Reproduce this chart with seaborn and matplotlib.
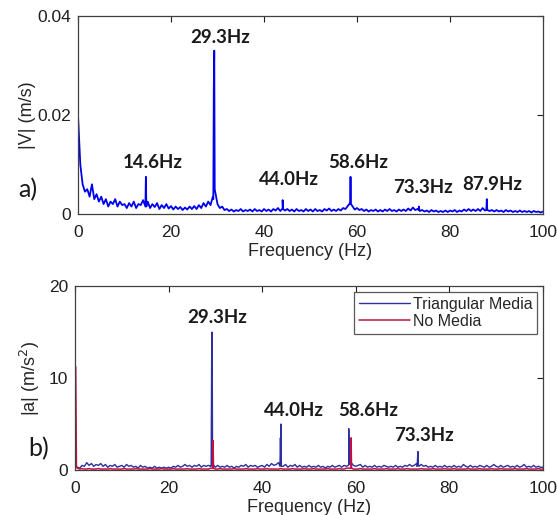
import numpy as np
import pandas as pd
import matplotlib
matplotlib.use("Agg")
import matplotlib.pyplot as plt
import seaborn as sns

sns.set_style("white")
plt.rcParams['font.family'] = ['Liberation Sans', 'DejaVu Sans']

# frequency grid of the noise floor (Hz), 0.5 Hz bins
freq_grid = np.arange(0, 100.5, 0.5)

# a) velocity spectrum noise floor, x1e-3 m/s
vel_floor = [
    20, 10, 6, 4.5, 5, 3.5, 6, 3, 4, 2.5, 3.5, 2, 3, 1.5, 2.5, 2, 3, 1.5, 2.5, 1.8,
    2, 1.2, 2.2, 1.5, 2.5, 1.2, 2, 1.8, 2.8, 1.5, 2.5, 1.2, 2, 1.4, 2.2, 1, 1.8, 1.2, 2, 1.1,
    1.6, 0.9, 1.5, 1, 1.4, 0.8, 1.3, 0.9, 1.5, 1, 1.6, 1, 1.8, 1.2, 2.2, 1.5, 2.5, 1.8, 3.5, 4.5,
    2, 1.2, 1.5, 0.8, 1, 0.6, 0.9, 0.5, 0.8, 0.6, 1, 0.5, 0.8, 0.6, 0.9, 0.5, 1, 0.6, 0.8, 0.5,
    1, 0.6, 0.9, 0.5, 1, 0.7, 1.2, 0.6, 1.2, 0.7, 1, 0.6, 0.9, 0.5, 1, 0.6, 0.8, 0.5, 1, 0.6,
    0.9, 0.5, 1, 0.6, 0.8, 0.5, 1, 0.7, 1.1, 0.6, 0.9, 0.6, 1, 0.7, 1.2, 1, 1.6, 2.2, 1.6, 0.9,
    1.2, 0.8, 1, 0.6, 0.9, 0.5, 0.8, 0.6, 0.9, 0.5, 0.8, 0.5, 0.9, 0.6, 1, 0.6, 0.8, 0.5, 0.9, 0.6,
    0.9, 0.6, 1.1, 0.7, 1.3, 0.8, 1, 0.6, 0.8, 0.5, 0.7, 0.4, 0.8, 0.5, 0.7, 0.4, 0.6, 0.4, 0.7, 0.4,
    0.7, 0.5, 0.8, 0.4, 0.7, 0.5, 0.9, 0.6, 1, 0.6, 0.9, 0.6, 1, 0.6, 1.2, 0.7, 1, 0.6, 0.8, 0.5,
    0.8, 0.5, 0.7, 0.4, 0.8, 0.5, 0.7, 0.4, 0.6, 0.4, 0.7, 0.4, 0.6, 0.4, 0.6, 0.3, 0.6, 0.4, 0.5, 0.3,
    0.5,
]
# narrow peaks: bin just below, the peak, bin just above
vel_peak_freq = [14.5, 14.6, 14.7, 29.1, 29.2, 29.3, 29.4, 43.9, 44.0, 44.1,
                 58.5, 58.6, 58.7, 73.2, 73.3, 73.4, 87.8, 87.9, 88.0]
vel_peak_amp = [1.5, 7.5, 1.5, 3.0, 25, 33, 5.0, 1.0, 2.8, 1.0,
                2.0, 7.5, 2.0, 0.8, 1.5, 0.8, 0.8, 3.0, 0.8]

# b) acceleration spectrum, m/s^2
tri_floor = [
    0.5, 0.3, 0.2, 0.5, 0.4, 0.8, 0.5, 0.7, 0.4, 0.6, 0.5, 0.7, 0.4, 0.6, 0.3, 0.5, 0.4, 0.6, 0.3, 0.4,
    0.5, 0.3, 0.6, 0.4, 0.5, 0.3, 0.4, 0.2, 0.5, 0.3, 0.4, 0.2, 0.3, 0.2, 0.4, 0.2, 0.3, 0.2, 0.3, 0.2,
    0.3, 0.2, 0.4, 0.3, 0.5, 0.3, 0.4, 0.6, 0.4, 0.5, 0.3, 0.5, 0.4, 0.6, 0.3, 0.5, 0.4, 0.5, 0.4, 0.6,
    0.3, 0.5, 0.3, 0.4, 0.3, 0.5, 0.3, 0.4, 0.2, 0.4, 0.3, 0.5, 0.4, 0.6, 0.3, 0.5, 0.4, 0.5, 0.3, 0.4,
    0.5, 0.3, 0.6, 0.4, 0.7, 0.5, 0.6, 0.8, 0.5, 0.4, 0.6, 0.3, 0.5, 0.4, 0.6, 0.3, 0.5, 0.3, 0.4, 0.3,
    0.5, 0.3, 0.4, 0.3, 0.5, 0.3, 0.4, 0.2, 0.4, 0.3, 0.5, 0.3, 0.4, 0.5, 0.3, 0.5, 0.4, 0.6, 0.8, 0.5,
    0.4, 0.5, 0.6, 0.3, 0.5, 0.3, 0.4, 0.3, 0.5, 0.3, 0.4, 0.3, 0.5, 0.4, 0.3, 0.4, 0.3, 0.5, 0.3, 0.4,
    0.3, 0.5, 0.4, 0.6, 0.4, 0.5, 0.7, 0.4, 0.6, 0.4, 0.5, 0.3, 0.4, 0.3, 0.5, 0.3, 0.4, 0.3, 0.5, 0.3,
    0.4, 0.3, 0.5, 0.3, 0.4, 0.3, 0.6, 0.4, 0.3, 0.5, 0.3, 0.4, 0.3, 0.5, 0.4, 0.3, 0.5, 0.3, 0.4, 0.6,
    0.4, 0.3, 0.5, 0.3, 0.4, 0.5, 0.3, 0.4, 0.3, 0.5, 0.3, 0.4, 0.6, 0.3, 0.4, 0.3, 0.5, 0.3, 0.4, 0.3,
    0.3,
]
tri_peak_freq = [29.1, 29.2, 29.3, 29.4, 43.8, 43.9, 44.0, 44.1,
                 58.4, 58.5, 58.6, 73.1, 73.2, 73.3, 73.4]
tri_peak_amp = [0.4, 12, 15, 0.5, 0.4, 3.5, 5.0, 0.4,
                0.5, 4.5, 0.6, 0.4, 1.2, 2.0, 0.5]

none_floor = [
    11.3, 0.2, 0.1, 0.15, 0.1, 0.1, 0.15, 0.1, 0.1, 0.1, 0.15, 0.1, 0.1, 0.1, 0.1, 0.15, 0.1, 0.1, 0.1, 0.1,
    0.1, 0.15, 0.1, 0.1, 0.1, 0.1, 0.15, 0.1, 0.1, 0.1, 0.1, 0.1, 0.15, 0.1, 0.1, 0.1, 0.1, 0.15, 0.1, 0.1,
    0.1, 0.1, 0.15, 0.1, 0.1, 0.1, 0.1, 0.1, 0.15, 0.1, 0.1, 0.1, 0.1, 0.15, 0.1, 0.1, 0.1, 0.1, 0.2, 0.2,
    0.1, 0.1, 0.15, 0.1, 0.1, 0.1, 0.1, 0.1, 0.15, 0.1, 0.1, 0.1, 0.1, 0.15, 0.1, 0.1, 0.1, 0.1, 0.15, 0.1,
    0.1, 0.1, 0.15, 0.1, 0.1, 0.1, 0.1, 0.1, 0.15, 0.1, 0.1, 0.1, 0.1, 0.15, 0.1, 0.1, 0.1, 0.1, 0.15, 0.1,
    0.1, 0.1, 0.15, 0.1, 0.1, 0.1, 0.1, 0.1, 0.15, 0.1, 0.1, 0.1, 0.1, 0.15, 0.1, 0.1, 0.2, 0.2, 0.2, 0.1,
    0.1, 0.1, 0.15, 0.1, 0.1, 0.1, 0.1, 0.1, 0.15, 0.1, 0.1, 0.1, 0.1, 0.15, 0.1, 0.1, 0.1, 0.1, 0.15, 0.1,
    0.1, 0.1, 0.15, 0.1, 0.1, 0.1, 0.1, 0.1, 0.15, 0.1, 0.1, 0.1, 0.1, 0.15, 0.1, 0.1, 0.1, 0.1, 0.15, 0.1,
    0.1, 0.1, 0.15, 0.1, 0.1, 0.1, 0.1, 0.1, 0.15, 0.1, 0.1, 0.1, 0.1, 0.15, 0.1, 0.1, 0.1, 0.1, 0.15, 0.1,
    0.1, 0.1, 0.15, 0.1, 0.1, 0.1, 0.1, 0.1, 0.15, 0.1, 0.1, 0.1, 0.1, 0.15, 0.1, 0.1, 0.1, 0.1, 0.15, 0.1,
    0.1,
]
none_peak_freq = [0.15, 0.3, 29.4, 29.5, 29.6, 58.9, 59.0, 59.1]
none_peak_amp = [11.2, 0.3, 0.2, 3.2, 0.2, 0.2, 3.5, 0.2]

vel_labels = ["14.6Hz", "29.3Hz", "44.0Hz", "58.6Hz", "73.3Hz", "87.9Hz"]
vel_label_pos = [(16.1, 0.0103), (30.5, 0.0356), (45.4, 0.0069), (60.2, 0.0105), (74.2, 0.0053), (89.0, 0.0059)]
acc_labels = ["29.3Hz", "44.0Hz", "58.6Hz", "73.3Hz"]
acc_label_pos = [(30.3, 16.6), (46.8, 6.5), (62.6, 6.5), (74.6, 3.7)]


def spectrum(floor, pk_f, pk_a, scale=1.0):
    f = np.concatenate([freq_grid, pk_f])
    a = np.concatenate([floor, pk_a]) * scale
    df = pd.DataFrame({"f": f, "a": a}).sort_values("f", kind="stable")
    return df


def matlab_box(ax):
    for s in ax.spines.values():
        s.set_visible(True)
        s.set_color("#404040")
        s.set_linewidth(0.9)
    ax.tick_params(direction="in", top=True, right=True, length=4, width=0.8,
                   labelsize=12.5, colors="#202020", pad=5)
    ax.tick_params(axis="x", pad=8)


fig = plt.figure(figsize=(5.57, 5.15), dpi=100)
ax1 = fig.add_axes([0.140, 0.5845, 0.835, 0.3845])
ax2 = fig.add_axes([0.1347, 0.0874, 0.840, 0.357])

vel = spectrum(vel_floor, vel_peak_freq, vel_peak_amp, 1e-3)
sns.lineplot(data=vel, x="f", y="a", ax=ax1, color="#0000ee", lw=1.3,
             estimator=None, sort=False)
ax1.set_xlim(0, 100)
ax1.set_ylim(0, 0.04)
ax1.set_xticks([0, 20, 40, 60, 80, 100])
ax1.set_yticks([0, 0.02, 0.04])
ax1.set_yticklabels(["0", "0.02", "0.04"])
ax1.set_xlabel("Frequency (Hz)", fontsize=13, labelpad=2)
ax1.set_ylabel("|V| (m/s)", fontsize=13, labelpad=1)
matlab_box(ax1)
for txt, (x, y) in zip(vel_labels, vel_label_pos):
    ax1.text(x, y, txt, ha="center", va="center", fontsize=13.5,
             fontweight="bold", family=["Lato", "DejaVu Sans"], color="#1a1a1a")

tri = spectrum(tri_floor, tri_peak_freq, tri_peak_amp)
nom = spectrum(none_floor, none_peak_freq, none_peak_amp)
sns.lineplot(data=tri, x="f", y="a", ax=ax2, color="#2e2e9e", lw=1.0,
             estimator=None, sort=False, label="Triangular Media")
sns.lineplot(data=nom, x="f", y="a", ax=ax2, color="#c41040", lw=1.1,
             estimator=None, sort=False, label="No Media")
ax2.set_xlim(0, 100)
ax2.set_ylim(0, 20)
ax2.set_xticks([0, 20, 40, 60, 80, 100])
ax2.set_yticks([0, 10, 20])
ax2.set_xlabel("Frequency (Hz)", fontsize=13, labelpad=2)
ax2.set_ylabel("|a| (m/s$^2$)", fontsize=13, labelpad=5)
matlab_box(ax2)
for txt, (x, y) in zip(acc_labels, acc_label_pos):
    ax2.text(x, y, txt, ha="center", va="center", fontsize=13.5,
             fontweight="bold", family=["Lato", "DejaVu Sans"], color="#1a1a1a")
leg = ax2.legend(loc="upper right", fontsize=11.5, frameon=True, fancybox=False,
                 borderaxespad=0.35, handlelength=3.2, handletextpad=0.2,
                 borderpad=0.3, labelspacing=0.15)
leg.get_frame().set_edgecolor("#303030")
leg.get_frame().set_linewidth(0.9)

fig.text(28 / 557, 1 - 190 / 515, "a)", fontsize=18, ha="center", va="center",
         family=["Lato", "DejaVu Sans"], color="#1a1a1a")
fig.text(39 / 557, 1 - 449 / 515, "b)", fontsize=18, ha="center", va="center",
         family=["Lato", "DejaVu Sans"], color="#1a1a1a")

fig.savefig("out.png", dpi=100)
